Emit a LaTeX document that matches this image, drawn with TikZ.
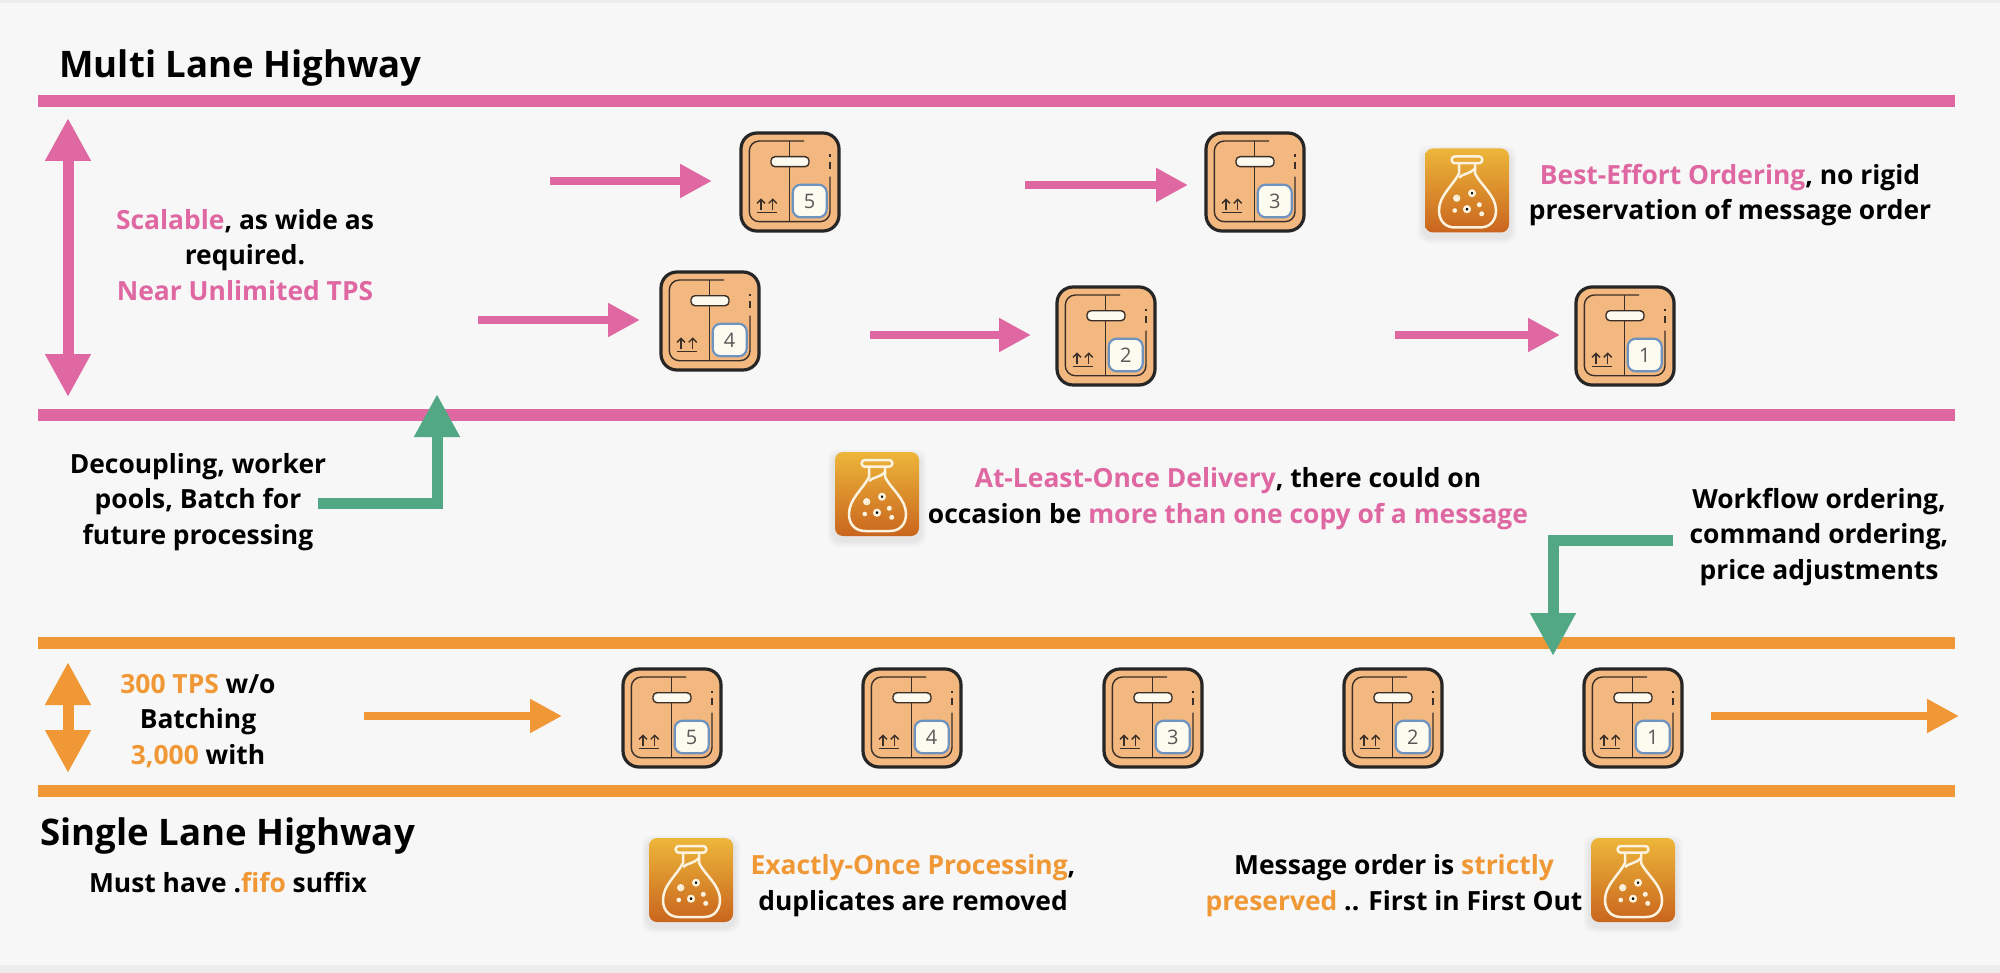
\documentclass[tikz,border=0pt]{standalone}
\usepackage{fontspec}
\setmainfont{Open Sans}
\usetikzlibrary{arrows.meta,calc}
\definecolor{bgc}{HTML}{F7F7F7}
\definecolor{edgec}{HTML}{EDEDED}
\definecolor{pinkc}{HTML}{DF68A2}
\definecolor{orangec}{HTML}{F09836}
\definecolor{greenc}{HTML}{52A885}
\definecolor{cratec}{HTML}{F2B880}
\definecolor{inkc}{HTML}{3A2E28}
\definecolor{creamc}{HTML}{FDFAEF}
\definecolor{labelc}{HTML}{6E93BE}
\definecolor{flasktop}{HTML}{EDB63A}
\definecolor{flaskbot}{HTML}{C9651E}
\definecolor{flaskline}{HTML}{FBF3E0}
\newcommand{\pk}[1]{\textcolor{pinkc}{#1}}
\newcommand{\og}[1]{\textcolor{orangec}{#1}}
\tikzset{
  x=0.5pt,y=-0.5pt,
  lane/.style={line width=6pt},
  flow/.style={line width=4pt,-{Triangle[length=16pt,width=16pt]}},
  span/.style={line width=5.5pt,{Triangle[length=21.5pt,width=21.5pt]}-{Triangle[length=21.5pt,width=21.5pt]}},
  turn/.style={greenc,line width=5.5pt,line join=miter,-{Triangle[length=21.5pt,width=21.5pt]}},
  body/.style={font=\bfseries\fontsize{13.2}{17.9}\selectfont,align=center,inner sep=0pt,text=black},
  title/.style={font=\bfseries\fontsize{18.3}{20}\selectfont,inner sep=0pt,text=black,anchor=west},
  cratebody/.style={draw=black!85,line width=1.6pt,fill=cratec,rounded corners=8pt,minimum size=49pt,inner sep=0pt,outer sep=0pt},
  crateline/.style={draw=inkc,line width=0.7pt},
  flaskbody/.style={rounded corners=4pt,minimum size=42pt,inner sep=0pt,outer sep=0pt,top color=flasktop,bottom color=flaskbot},
  flaskline/.style={draw=flaskline,line width=1.25pt,line join=round},
}
\newcommand{\cratebox}[4]{%
  \node[cratebody] (#1) at (#2,#3) {};
  \begin{scope}[shift={(#2,#3)}]
    \draw[crateline,rounded corners=5pt] (14,-41) -- (-40.7,-41) -- (-40.7,39.7) -- (40,39.7) -- (40,-5.3);
    \draw[crateline] (-0.7,-41) -- (-0.7,39.7);
    \draw[crateline] (40,-20) -- (40,-13);
    \draw[crateline] (40,-27.5) -- (40,-25);
    \draw[crateline,fill=creamc,rounded corners=2pt] (-19,-25.3) rectangle (19,-15.3);
    \draw[crateline] (-33.3,30.3) -- (-12.7,30.3);
    \draw[inkc,line width=0.7pt,-{Straight Barb[length=2pt,width=4pt]}] (-29,28) -- (-29,16.3);
    \draw[inkc,line width=0.7pt,-{Straight Barb[length=2pt,width=4pt]}] (-17.3,28) -- (-17.3,16.3);
    \draw[draw=labelc,line width=1.1pt,fill=creamc,rounded corners=4pt] (2.7,2.7) rectangle (36.7,35.3);
    \node[inner sep=0pt,text=black!65,font=\fontsize{10}{10}\selectfont] (#1n) at (19.7,19) {#4};
  \end{scope}
}
\newcommand{\flaskicon}[3]{%
  \foreach \g in {7,5,3}{
    \fill[black,opacity=0.025,rounded corners=5pt] ($(#2,#3)+(-42-\g,-41.5-\g+4)$) rectangle ($(#2,#3)+(42+\g,41.5+\g+4)$);
  }
  \node[flaskbody] (#1) at (#2,#3) {};
  \begin{scope}[shift={(#2,#3)}]
    \draw[flaskline,rounded corners=1.5pt] (-15.3,-34) rectangle (15.3,-27.3);
    \draw[flaskline] (-8,-27.3) -- (-8,-17) .. controls (-14,-5) and (-28,5) .. (-28,20)
       .. controls (-28,30) and (-22,37) .. (-12,37) -- (13,37)
       .. controls (23,37) and (29,30) .. (29,20)
       .. controls (29,5) and (14,-5) .. (8,-17) -- (8,-27.3);
    \draw[flaskline] (-8,-13) .. controls (-4,-17) and (2,-16) .. (8,-22);
    \draw[flaskline,line width=0.8pt] (-10.3,7.7) circle (1.4pt);
    \fill[flaskline] (-10.3,7.7) circle (0.45pt);
    \fill[flaskline] (5,2.7) circle (1.35pt);
    \fill[flaskline] (12.3,14.3) circle (0.75pt);
    \fill[flaskline] (0,18.7) circle (1.4pt);
    \fill[flaskline] (-12.3,20) circle (0.65pt);
    \fill[flaskline] (14.7,23.3) circle (0.75pt);
  \end{scope}
}
\begin{document}
\begin{tikzpicture}
  \useasboundingbox (0,0) rectangle (2000,973);
  \fill[bgc] (0,0) rectangle (2000,973);
  \fill[edgec] (0,0) rectangle (2000,3);
  \fill[edgec] (0,965) rectangle (2000,973);

  % lane lines
  \coordinate (pinkTopL) at (38,101);   \coordinate (pinkTopR) at (1955,101);
  \coordinate (pinkBotL) at (38,415);   \coordinate (pinkBotR) at (1955,415);
  \coordinate (orTopL) at (38,643);     \coordinate (orTopR) at (1955,643);
  \coordinate (orBotL) at (38,791);     \coordinate (orBotR) at (1955,791);
  \draw[lane,pinkc] (pinkTopL) -- (pinkTopR);
  \draw[lane,pinkc] (pinkBotL) -- (pinkBotR);
  \draw[lane,orangec] (orTopL) -- (orTopR);
  \draw[lane,orangec] (orBotL) -- (orBotR);

  % span arrows
  \coordinate (pinkSpanT) at (68,118);  \coordinate (pinkSpanB) at (68,397);
  \draw[span,pinkc] (pinkSpanB) -- (pinkSpanT);
  \coordinate (orSpanT) at (68,662);    \coordinate (orSpanB) at (68,773);
  \draw[span,orangec] (orSpanB) -- (orSpanT);

  % crates, upper
  \cratebox{up5}{790}{182}{5}
  \cratebox{up3}{1255}{182}{3}
  \cratebox{up4}{710}{321}{4}
  \cratebox{up2}{1106}{336}{2}
  \cratebox{up1}{1625}{336}{1}
  % crates, lower
  \cratebox{lo5}{672}{718}{5}
  \cratebox{lo4}{912}{718}{4}
  \cratebox{lo3}{1153}{718}{3}
  \cratebox{lo2}{1393}{718}{2}
  \cratebox{lo1}{1633}{718}{1}

  % flow arrows
  \coordinate (s5) at (550,181);
  \coordinate (s3) at (1025,185);
  \coordinate (s4) at (478,320);
  \coordinate (s2) at (870,335);
  \coordinate (s1) at (1395,335);
  \coordinate (sLo) at (364,716);
  \coordinate (eLo) at (1959,716);
  \draw[flow,pinkc,shorten >=14.5pt] (s5) -- (s5 -| up5.west);
  \draw[flow,pinkc,shorten >=9pt] (s3) -- (s3 -| up3.west);
  \draw[flow,pinkc,shorten >=10.5pt] (s4) -- (s4 -| up4.west);
  \draw[flow,pinkc,shorten >=13pt] (s2) -- (s2 -| up2.west);
  \draw[flow,pinkc,shorten >=8pt] (s1) -- (s1 -| up1.west);
  \draw[flow,orangec,shorten >=30.5pt] (sLo) -- (sLo -| lo5.west);
  \draw[flow,orangec,shorten <=14.5pt] (eLo -| lo1.east) -- (eLo);

  % flasks
  \flaskicon{flaskA}{1467}{190.5}
  \flaskicon{flaskB}{877}{494}
  \flaskicon{flaskC}{691}{880}
  \flaskicon{flaskD}{1633}{880}

  % text
  \node[title] (multi) at (59,68) {Multi Lane Highway};
  \node[title] (single) at (40,836) {Single Lane Highway};
  \node[body] (scal) at (245,255) {\pk{Scalable}, as wide as\\required.\\\pk{Near Unlimited TPS}};
  \node[body] (decoup) at (198,502) {Decoupling, worker\\pools, Batch for\\future processing};
  \node[body] (work) at (1819,537) {Workflow ordering,\\command ordering,\\price adjustments};
  \node[body] (least) at (1228,499) {\pk{At-Least-Once Delivery}, there could on\\occasion be \pk{more than one copy of a message}};
  \node[body] (best) at (1730,195) {\pk{Best-Effort Ordering}, no rigid\\preservation of message order};
  \node[body] (exact) at (913,886) {\og{Exactly-Once Processing},\\duplicates are removed};
  \node[body] (order) at (1394,886) {Message order is \og{strictly}\\\og{preserved} .. First in First Out};
  \node[body] (tps) at (198,721) {\og{300 TPS} w/o\\Batching\\\og{3,000} with};
  \node[body] (fifo) at (228,883) {Must have .\og{fifo} suffix};

  % green arrows
  \coordinate (gAs) at (318,503.5);
  \coordinate (gAe) at (437,394);
  \draw[turn] (gAs) -| (gAe);
  \coordinate (gBs) at (1673,540);
  \coordinate (gBe) at (1553,656);
  \draw[turn] (gBs) -| (gBe);
\end{tikzpicture}
\end{document}
